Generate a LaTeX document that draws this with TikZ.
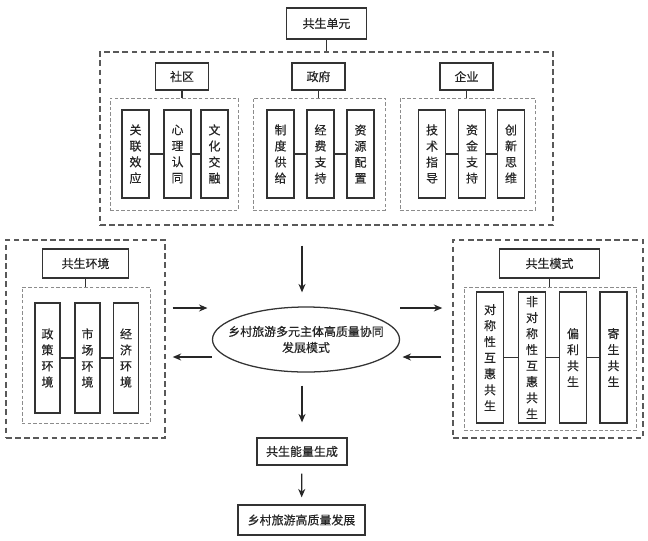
\documentclass[tikz,border=0pt]{standalone}
\usepackage{fontspec}
\setmainfont{Noto Sans CJK SC}[BoldFont={Noto Sans CJK SC},BoldFeatures={FakeBold=0.5}]
\usetikzlibrary{shapes.geometric,arrows.meta}

\tikzset{
	box/.style={draw=black!80,line width=0.9pt,inner sep=0pt,text=black!85,font=\fontsize{8.5}{11.4}\selectfont\bfseries},
	tallbox/.style={box,align=center},
	frame/.style={draw=black!65,line width=1pt,dash pattern=on 4pt off 2.5pt,inner sep=0pt},
	subframe/.style={draw=black!45,line width=0.6pt,dash pattern=on 2.5pt off 1.5pt,inner sep=0pt},
	link/.style={draw=black!80,line width=0.9pt},
	arr/.style={draw=black!85,line width=0.9pt,-{Stealth[length=6pt,width=5pt]}}
}

\begin{document}
\begin{tikzpicture}[x=0.025cm,y=-0.025cm]
	\useasboundingbox (0,0) rectangle (648,540);
	% symbiotic units
	\node[frame,minimum width=11.325cm,minimum height=4.325cm] (unitframe) at (326.5,138.5) {};
	\node[box,minimum width=2cm,minimum height=0.775cm] (unit) at (326.5,23.5) {共生单元};
	\node[subframe,minimum width=3.2cm,minimum height=2.8cm] (shequframe) at (174,154) {};
	\node[subframe,minimum width=3.3cm,minimum height=2.8cm] (zhengfuframe) at (319,154) {};
	\node[subframe,minimum width=3.375cm,minimum height=2.8cm] (qiyeframe) at (467.5,154) {};
	\node[box,minimum width=1.325cm,minimum height=0.675cm] (shequ) at (182,76.5) {社区};
	\node[box,minimum width=1.325cm,minimum height=0.675cm] (zhengfu) at (318.5,76.5) {政府};
	\node[box,minimum width=1.325cm,minimum height=0.675cm] (qiye) at (466.5,76.5) {企业};
	\node[tallbox,minimum width=0.675cm,minimum height=2.2cm] (s1) at (135.5,154) {关\\联\\效\\应};
	\node[tallbox,minimum width=0.675cm,minimum height=2.2cm] (s2) at (177.5,154) {心\\理\\认\\同};
	\node[tallbox,minimum width=0.675cm,minimum height=2.2cm] (s3) at (214.5,154) {文\\化\\交\\融};
	\node[tallbox,minimum width=0.675cm,minimum height=2.2cm] (z1) at (280.5,154) {制\\度\\供\\给};
	\node[tallbox,minimum width=0.675cm,minimum height=2.2cm] (z2) at (320.5,154) {经\\费\\支\\持};
	\node[tallbox,minimum width=0.675cm,minimum height=2.2cm] (z3) at (360.5,154) {资\\源\\配\\置};
	\node[tallbox,minimum width=0.675cm,minimum height=2.2cm] (q1) at (432,154) {技\\术\\指\\导};
	\node[tallbox,minimum width=0.675cm,minimum height=2.2cm] (q2) at (472,154) {资\\金\\支\\持};
	\node[tallbox,minimum width=0.675cm,minimum height=2.2cm] (q3) at (511,154) {创\\新\\思\\维};
	\path [link] (unit) edge (unitframe);
	\path [link] (shequ) edge (shequ |- shequframe.north);
	\path [link] (zhengfu) edge (zhengfu |- zhengfuframe.north);
	\path [link] (qiye) edge (qiye |- qiyeframe.north);
	\path [link] (s1) edge (s2) (s2) edge (s3);
	\path [link] (z1) edge (z2) (z2) edge (z3);
	\path [link] (q1) edge (q2) (q2) edge (q3);
	% symbiotic environment
	\node[frame,minimum width=3.975cm,minimum height=4.95cm] (envframe) at (85.5,339) {};
	\node[box,minimum width=2.15cm,minimum height=0.725cm] (env) at (85.5,263.5) {共生环境};
	\node[subframe,minimum width=3.2cm,minimum height=3.4cm] (envsub) at (86,355) {};
	\node[tallbox,minimum width=0.625cm,minimum height=2.75cm] (e1) at (47.5,358) {政\\策\\环\\境};
	\node[tallbox,minimum width=0.625cm,minimum height=2.75cm] (e2) at (87.5,358) {市\\场\\环\\境};
	\node[tallbox,minimum width=0.625cm,minimum height=2.75cm] (e3) at (126,358) {经\\济\\环\\境};
	\path [link] (env) edge (env |- envsub.north);
	\path [link] (e1) edge (e2) (e2) edge (e3);
	% symbiotic modes
	\node[frame,minimum width=4.75cm,minimum height=4.95cm] (modeframe) at (548,339) {};
	\node[box,minimum width=2.5cm,minimum height=0.725cm] (mode) at (549.5,263.5) {共生模式};
	\node[subframe,minimum width=4.3cm,minimum height=3.575cm] (modesub) at (550,358.5) {};
	\node[tallbox,minimum width=0.675cm,minimum height=3.275cm] (m1) at (490,357.5) {对\\称\\性\\互\\惠\\共\\生};
	\node[tallbox,minimum width=0.675cm,minimum height=3.275cm] (m2) at (532,357.5) {非\\对\\称\\性\\互\\惠\\共\\生};
	\node[tallbox,minimum width=0.675cm,minimum height=3.275cm] (m3) at (573,357.5) {偏\\利\\共\\生};
	\node[tallbox,minimum width=0.675cm,minimum height=3.275cm] (m4) at (613.5,357.5) {寄\\生\\共\\生};
	\path [link] (mode) edge (mode |- modesub.north);
	\path [link] (m1) edge (m2) (m2) edge (m3) (m3) edge (m4);
	% core pattern and results
	\node[ellipse,draw=black!80,line width=0.9pt,inner sep=0pt,minimum width=4.675cm,minimum height=1.625cm] (core) at (306,339.5) {};
	\node[align=center,inner sep=0pt,text=black!85,font=\fontsize{8.5}{11.4}\selectfont\bfseries] (coretext) at (core) {乡村旅游多元主体高质量协同\\发展模式};
	\node[box,minimum width=2.25cm,minimum height=0.675cm] (energy) at (302,451.5) {共生能量生成};
	\node[box,minimum width=3.175cm,minimum height=0.75cm] (final) at (301.5,520) {乡村旅游高质量发展};
	\coordinate (upper) at (0,308);
	\coordinate (lower) at (0,357);
	\draw [arr,shorten <=0.5cm,shorten >=0.35cm] (unitframe.south -| energy) -- (core.north -| energy);
	\draw [arr,shorten <=0.175cm,shorten >=0.11cm] (envframe.east |- upper) -- (core.west |- upper);
	\draw [arr,shorten >=0.175cm] (core.west |- lower) -- (envframe.east |- lower);
	\draw [arr,shorten >=0.25cm] (core.east |- upper) -- (modeframe.west |- upper);
	\draw [arr,shorten <=0.275cm,shorten >=0.06cm] (modeframe.west |- lower) -- (core.east |- lower);
	\draw [arr,shorten <=0.325cm,shorten >=0.375cm] (core.south -| energy) -- (energy.north);
	\draw [arr,shorten <=0.2cm,shorten >=0.175cm] (energy) -- (final);
\end{tikzpicture}
\end{document}
